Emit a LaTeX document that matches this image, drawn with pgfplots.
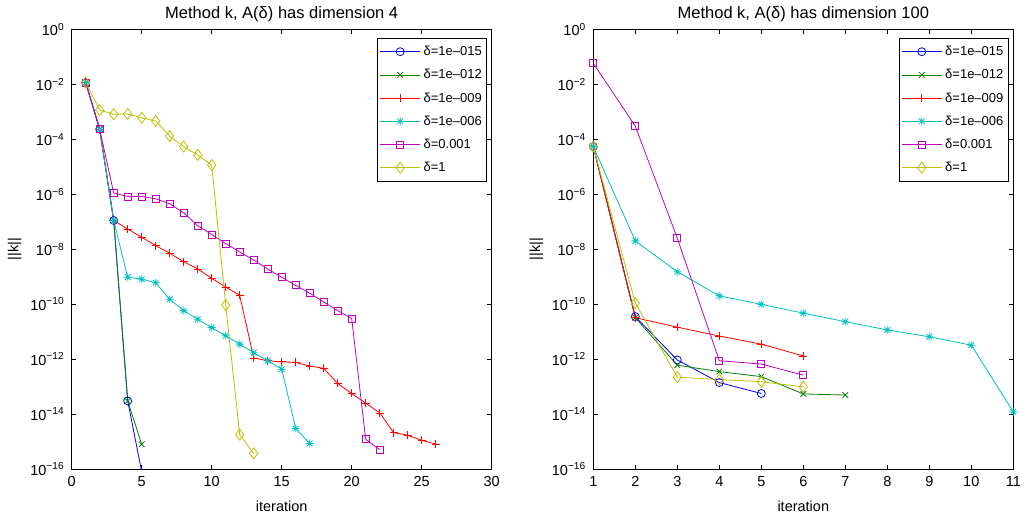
\documentclass[border=0pt]{standalone}
\usepackage{fontspec}
\setmainfont{Liberation Sans}
\usepackage{pgfplots}
\pgfplotsset{compat=1.18}
\usetikzlibrary{plotmarks}

\definecolor{mblue}{rgb}{0,0,1}
\definecolor{mgreen}{rgb}{0,0.5,0}
\definecolor{mred}{rgb}{1,0,0}
\definecolor{mcyan}{rgb}{0,0.75,0.75}
\definecolor{mmag}{rgb}{0.75,0,0.75}
\definecolor{myel}{rgb}{0.75,0.75,0}

% matlab style asterisk: + and x together
\pgfdeclareplotmark{mstar}{%
  \pgfpathmoveto{\pgfqpoint{-\pgfplotmarksize}{0pt}}\pgfpathlineto{\pgfqpoint{\pgfplotmarksize}{0pt}}%
  \pgfpathmoveto{\pgfqpoint{0pt}{-\pgfplotmarksize}}\pgfpathlineto{\pgfqpoint{0pt}{\pgfplotmarksize}}%
  \pgfpathmoveto{\pgfqpoint{-.7071\pgfplotmarksize}{-.7071\pgfplotmarksize}}\pgfpathlineto{\pgfqpoint{.7071\pgfplotmarksize}{.7071\pgfplotmarksize}}%
  \pgfpathmoveto{\pgfqpoint{-.7071\pgfplotmarksize}{.7071\pgfplotmarksize}}\pgfpathlineto{\pgfqpoint{.7071\pgfplotmarksize}{-.7071\pgfplotmarksize}}%
  \pgfusepathqstroke}

\pgfplotsset{
  matlabaxis/.style={
    scale only axis, width=420pt, height=439.7pt,
    anchor=south west,
    ymin=1e-16, ymax=1,
    ytick={1e-16,1e-14,1e-12,1e-10,1e-8,1e-6,1e-4,1e-2,1},
    yticklabels={10\textsuperscript{−16},10\textsuperscript{−14},10\textsuperscript{−12},10\textsuperscript{−10},10\textsuperscript{−8},10\textsuperscript{−6},10\textsuperscript{−4},10\textsuperscript{−2},10\textsuperscript{0}},
    yminorticks=false, xminorticks=false,
    tick align=inside, tickpos=both,
    major tick length=4.5pt,
    axis line style={line width=1pt},
    every tick/.style={black, line width=0.9pt},
    /pgf/number format/assume math mode=true,
    tick label style={font=\fontsize{14.5}{17}\selectfont},
    xticklabel style={yshift=-4pt},
    yticklabel style={xshift=-4pt},
    xlabel={iteration}, ylabel={||k||},
    every axis x label/.style={at={(axis description cs:0.5,0)}, anchor=center,
      yshift=-37pt, font=\fontsize{14.5}{17}\selectfont},
    every axis y label/.style={at={(axis description cs:-0.1357,0.5)}, rotate=90,
      anchor=center, font=\fontsize{14.5}{17}\selectfont},
    title style={font=\fontsize{16.5}{19}\selectfont, yshift=-2.5pt},
    legend style={font=\fontsize{13}{15}\selectfont, at={(1,1)}, anchor=north east,
      xshift=-4.5pt, yshift=-8.4pt, draw=black, line width=0.8pt, inner sep=2pt,
      nodes={text height=10pt, text depth=2pt, inner ysep=5.6pt, inner xsep=3pt}},
    legend cell align=left,
    legend image code/.code={\draw[mark repeat=2,mark phase=2] plot coordinates {(0pt,0pt) (20pt,0pt) (40pt,0pt)};},
    every axis plot/.append style={line width=0.8pt},
  },
  serblue/.style={mblue, mark=o, mark size=4pt},
  sergreen/.style={mgreen, mark=x, mark size=4pt},
  serred/.style={mred, mark=+, mark size=4pt},
  sercyan/.style={mcyan, mark=mstar, mark size=4pt},
  sermag/.style={mmag, mark=square, mark size=3.5pt},
  seryel/.style={myel, mark=diamond, mark size=5.5pt},
}

\begin{document}
\begin{tikzpicture}
\useasboundingbox (0,0) rectangle (1028pt,517pt);

\begin{axis}[ymode=log, matlabaxis, at={(71.7pt,48pt)},
    xmin=0, xmax=30, xtick={0,5,10,15,20,25,30},
    title={Method k, A(δ) has dimension 4}]
\addplot[serblue] coordinates {(1,1.15e-2)(2,2.3e-4)(3,1.1e-7)(4,3e-14)(5,8e-17)};
\addplot[sergreen] coordinates {(1,1.15e-2)(2,2.3e-4)(3,1.1e-7)(4,3e-14)(5,7.9e-16)};
\addplot[serred] coordinates {(1,1.15e-2)(2,2.3e-4)(3,1.1e-7)(4,5.4e-8)(5,2.7e-8)(6,1.35e-8)(7,7.1e-9)(8,3.5e-9)(9,1.9e-9)(10,8.7e-10)(11,4.2e-10)(12,2.1e-10)(13,1.1e-12)(14,8.7e-13)(15,7.9e-13)(16,7.6e-13)(17,5.6e-13)(18,4.6e-13)(19,1.3e-13)(20,5.6e-14)(21,2.5e-14)(22,1.1e-14)(23,2.1e-15)(24,1.7e-15)(25,1.1e-15)(26,8.1e-16)};
\addplot[sercyan] coordinates {(1,1.15e-2)(2,2.3e-4)(3,1.1e-7)(4,9.5e-10)(5,8.1e-10)(6,6e-10)(7,1.5e-10)(8,5.8e-11)(9,2.8e-11)(10,1.4e-11)(11,7.1e-12)(12,3.5e-12)(13,1.7e-12)(14,8.7e-13)(15,4.3e-13)(16,3e-15)(17,8.5e-16)};
\addplot[sermag] coordinates {(1,1.15e-2)(2,2.3e-4)(3,1.1e-6)(4,8.3e-7)(5,8.3e-7)(6,6.8e-7)(7,4.5e-7)(8,2.1e-7)(9,7.1e-8)(10,3.4e-8)(11,1.6e-8)(12,7.9e-9)(13,4e-9)(14,1.9e-9)(15,9.5e-10)(16,4.8e-10)(17,2.5e-10)(18,1.2e-10)(19,5.8e-11)(20,3e-11)(21,1.2e-15)(22,5.1e-16)};
\addplot[seryel] coordinates {(1,1.15e-2)(2,1.15e-3)(3,8.1e-4)(4,8.3e-4)(5,6e-4)(6,4.6e-4)(7,1.3e-4)(8,5.4e-5)(9,2.7e-5)(10,1.15e-5)(11,9.3e-11)(12,1.8e-15)(13,3.7e-16)};
\legend{{δ=1e–015},{δ=1e–012},{δ=1e–009},{δ=1e–006},{δ=0.001},{δ=1}}
\end{axis}

\begin{axis}[ymode=log, matlabaxis, at={(593.3pt,48pt)},
    xmin=1, xmax=11, xtick={1,2,3,4,5,6,7,8,9,10,11},
    title={Method k, A(δ) has dimension 100}]
\addplot[serblue] coordinates {(1,5.4e-5)(2,3.5e-11)(3,9.3e-13)(4,1.4e-13)(5,5.6e-14)};
\addplot[sergreen] coordinates {(1,5.4e-5)(2,3.2e-11)(3,6e-13)(4,3.5e-13)(5,2.3e-13)(6,5.4e-14)(7,4.9e-14)};
\addplot[serred] coordinates {(1,5.4e-5)(2,3.2e-11)(3,1.45e-11)(4,6.9e-12)(5,3.5e-12)(6,1.3e-12)};
\addplot[sercyan] coordinates {(1,5.4e-5)(2,2e-8)(3,1.5e-9)(4,2e-10)(5,9.8e-11)(6,4.7e-11)(7,2.3e-11)(8,1.15e-11)(9,6.5e-12)(10,3.2e-12)(11,1.2e-14)};
\addplot[sermag] coordinates {(1,5.8e-2)(2,3e-4)(3,2.5e-8)(4,8.7e-13)(5,6.6e-13)(6,2.6e-13)};
\addplot[seryel] coordinates {(1,5.4e-5)(2,1.1e-10)(3,2.2e-13)(4,1.8e-13)(5,1.5e-13)(6,9.8e-14)};
\legend{{δ=1e–015},{δ=1e–012},{δ=1e–009},{δ=1e–006},{δ=0.001},{δ=1}}
\end{axis}
\end{tikzpicture}
\end{document}
